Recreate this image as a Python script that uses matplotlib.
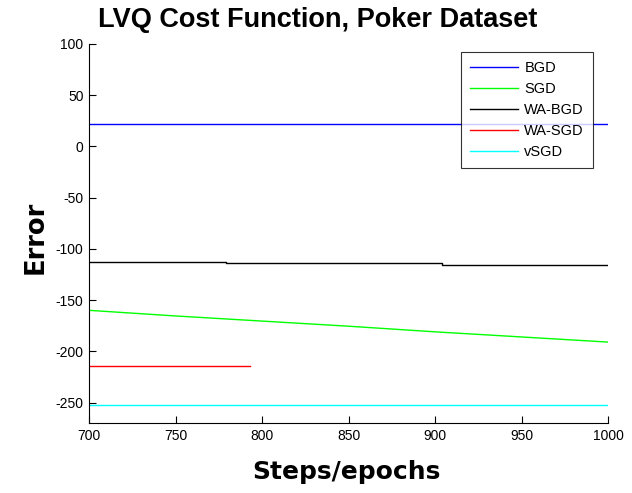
import matplotlib
matplotlib.use("Agg")
import matplotlib.pyplot as plt

plt.rcParams['font.family'] = ['Liberation Sans', 'DejaVu Sans']
plt.rcParams['axes.unicode_minus'] = False

# Data
bgd_x = [700, 1000]
bgd_y = [22, 22]

sgd_x = [700, 750, 800, 850, 900, 950, 1000]
sgd_y = [-160, -165.5, -170.5, -175.5, -181, -186, -191]

wabgd_x = [700, 779, 779, 904, 904, 1000]
wabgd_y = [-113, -113, -114, -114, -115.5, -115.5]

wasgd_x = [700, 793]
wasgd_y = [-214, -214]

vsgd_x = [700, 1000]
vsgd_y = [-252, -252]

labels = ['BGD', 'SGD', 'WA-BGD', 'WA-SGD', 'vSGD']
colors = ['#0000ff', '#00ff00', '#000000', '#ff0000', '#00ffff']

xticks = [700, 750, 800, 850, 900, 950, 1000]
yticks = [100, 50, 0, -50, -100, -150, -200, -250]

W, H = 632, 493
fig = plt.figure(figsize=(W / 100, H / 100), dpi=100)
ax = fig.add_axes([89 / W, 1 - 423 / H, (608 - 89) / W, (423 - 44) / H])

series = [(bgd_x, bgd_y), (sgd_x, sgd_y), (wabgd_x, wabgd_y), (wasgd_x, wasgd_y), (vsgd_x, vsgd_y)]
for (x, y), lab, c in zip(series, labels, colors):
    ax.plot(x, y, color=c, lw=1.0, label=lab)

ax.set_xlim(700, 1000)
ax.set_ylim(-270, 100)
ax.set_xticks(xticks)
ax.set_yticks(yticks)
ax.tick_params(direction='in', length=5, width=0.8, labelsize=10, colors='black', pad=4)
ax.spines['top'].set_visible(False)
ax.spines['right'].set_visible(False)

fig.text(318 / W, 1 - 27 / H, 'LVQ Cost Function, Poker Dataset', fontsize=19.5,
         fontweight='bold', ha='center', va='baseline')
fig.text(346 / W, 1 - 479 / H, 'Steps/epochs', fontsize=18, fontweight='bold',
         family='DejaVu Sans', ha='center', va='baseline')
fig.text(42.5 / W, 1 - 237.5 / H, 'Error', fontsize=18.5, fontweight='bold',
         family='DejaVu Sans', ha='center', va='baseline', rotation=90,
         rotation_mode='anchor')

leg = ax.legend(loc='upper left', bbox_to_anchor=((461 - 89) / 519, (423 - 52) / 379),
                fontsize=10.5, frameon=True, fancybox=False, edgecolor='black',
                handlelength=3.3, handletextpad=0.44, labelspacing=0.49, borderpad=0.6,
                borderaxespad=0)
leg.get_frame().set_linewidth(0.8)

fig.savefig('out.png', dpi=100)
